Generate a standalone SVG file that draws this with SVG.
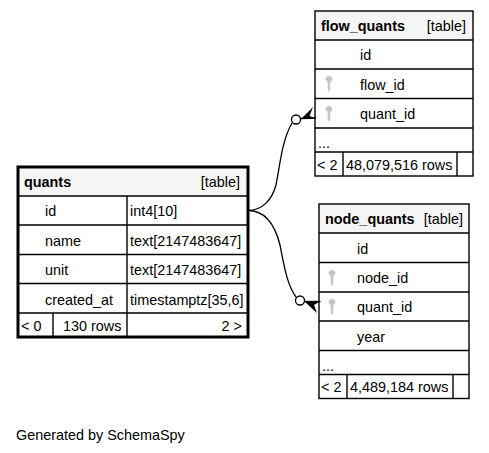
<svg xmlns="http://www.w3.org/2000/svg" width="489" height="453" viewBox="0 0 489 453">
<defs>
<style>
text{font-family:"Liberation Sans",Arial,sans-serif;font-size:14.4px;fill:#000}
.b{font-weight:bold}
.e{text-anchor:end}
.hd{fill:#f5f5f5;stroke:none}
.ln{stroke:#000;stroke-width:1.4;fill:none}
.out{stroke:#000;stroke-width:1.4;fill:none}
.thick{stroke:#000;stroke-width:3;fill:none}
.edge{stroke:#000;stroke-width:1.3;fill:none}
</style>
<g id="key"><path d="M-1.200,4 L-1,12.500 Q0,14 1,12.500 L1.200,4 Q3.500,2.500 3.300,0.500 Q2.800,-2 0,-2 Q-2.800,-2 -3.300,0.500 Q-3.500,2.500 -1.200,4 Z" fill="#c2c2c2" stroke="#d8d8d8" stroke-width="0.6"/></g>
</defs>
<rect width="489" height="453" fill="#fff"/>
<g id="connectors">
<path class="edge" d="M248,210.500 C262,210.500 272,200 276,185 C280,165 282,140 292,123"/>
<path class="edge" d="M248,210.500 C266,210.500 275,225 280,245 C284,265 287,285 296,297"/>
<path class="edge" d="M300.500,118.500 L316,118"/>
<path d="M301.500,118.500 L313,107 L309.500,116 L315,118 Z" fill="#000"/>
<path class="edge" d="M304,301.500 L320.500,301.500"/>
<path d="M304.500,301.500 L317,313 L314,305 L319,302 Z" fill="#000"/>
<circle cx="296" cy="119.500" r="4.500" fill="#fff" stroke="#000" stroke-width="1.300"/>
<circle cx="300" cy="300.500" r="4.500" fill="#fff" stroke="#000" stroke-width="1.300"/>
</g>
<g id="flow_quants">
<rect class="hd" x="315" y="11" width="158" height="29"/>
<rect class="out" x="315" y="11" width="158" height="165"/>
<path class="ln" d="M315,40H473M315,69H473M315,98.500H473M315,128H473M315,152H473M343,152V176M457,152V176"/>
<text class="b" x="321" y="31">flow_quants</text><text class="e" x="466" y="31">[table]</text>
<text x="360" y="60">id</text><text x="360" y="90">flow_id</text><text x="360" y="119">quant_id</text>
<text x="318" y="148">...</text><text x="317" y="170">&lt; 2</text><text x="346" y="170">48,079,516 rows</text>
<use href="#key" x="329" y="78"/><use href="#key" x="329" y="108"/>
</g>
<g id="node_quants">
<rect class="hd" x="319" y="204" width="150" height="29"/>
<rect class="out" x="319" y="204" width="150" height="194.500"/>
<path class="ln" d="M319,233H469M319,262.500H469M319,292H469M319,321H469M319,350.500H469M319,374.500H469M347,374.500V398.500M453,374.500V398.500"/>
<text class="b" x="325" y="224">node_quants</text><text class="e" x="463" y="224">[table]</text>
<text x="357" y="254">id</text><text x="357" y="283">node_id</text><text x="357" y="312">quant_id</text><text x="357" y="342">year</text>
<text x="322" y="371">...</text><text x="321" y="392">&lt; 2</text><text x="350" y="392">4,489,184 rows</text>
<use href="#key" x="332" y="272"/><use href="#key" x="332" y="301"/>
</g>
<g id="quants">
<rect class="hd" x="18" y="167" width="230" height="29"/>
<path class="ln" d="M18,196H248M18,225H248M18,254.500H248M18,283.500H248M18,313H248M127,196V337M53,313V337"/>
<rect class="thick" x="18" y="167" width="230" height="170"/>
<text class="b" x="24" y="187">quants</text><text class="e" x="240" y="187">[table]</text>
<text x="45" y="216">id</text><text x="130" y="216">int4[10]</text>
<text x="45" y="246">name</text><text x="130" y="246">text[2147483647]</text>
<text x="45" y="275">unit</text><text x="130" y="275">text[2147483647]</text>
<text x="45" y="305">created_at</text><text x="130" y="305">timestamptz[35,6]</text>
<text x="21" y="331">&lt; 0</text><text x="63" y="331">130 rows</text><text class="e" x="242" y="331">2 &gt;</text>
</g>
<text x="16" y="440">Generated by SchemaSpy</text>
</svg>
